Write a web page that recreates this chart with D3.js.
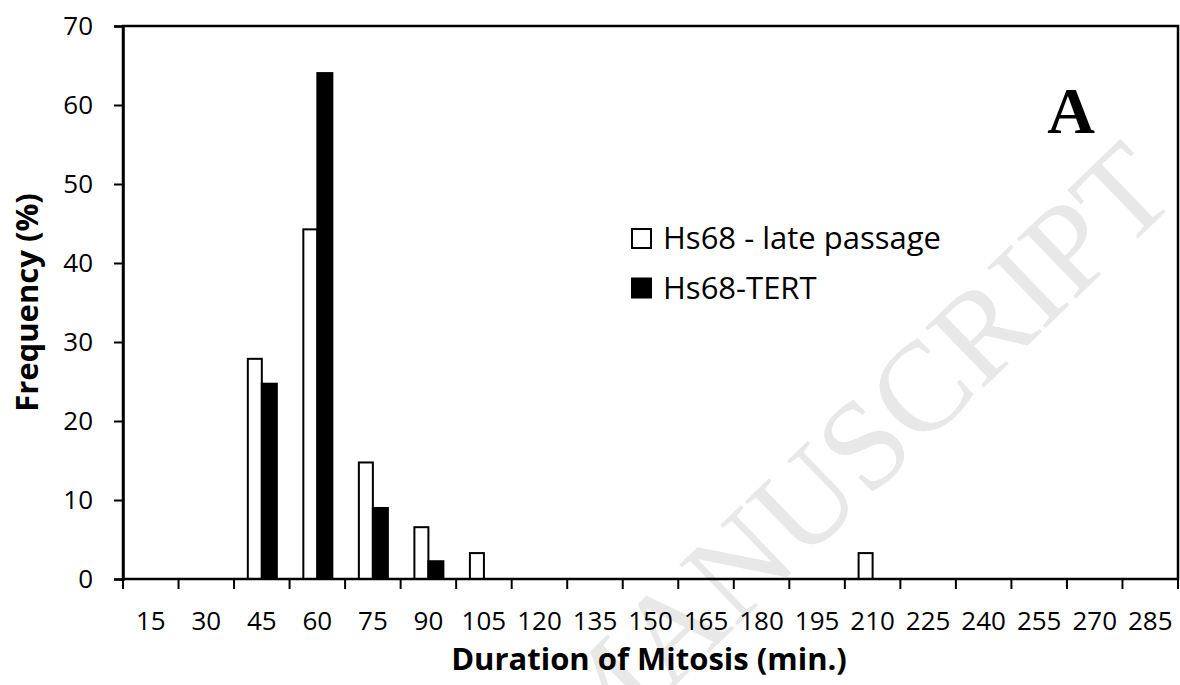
<!DOCTYPE html>
<html>
<head>
<meta charset="utf-8">
<script src="https://cdn.jsdelivr.net/npm/d3@7"></script>
<style>
  body { margin: 0; background: #fff; }
  svg { display: block; }
</style>
</head>
<body>
<div id="chart"></div>
<script>
// duration bins (min.)
const durations = ["15","30","45","60","75","90","105","120","135","150","165","180","195","210","225","240","255","270","285"];
const seriesNames = ["Hs68 - late passage", "Hs68-TERT"];
// frequency (%) per bin
const latePassage = [0,0,27.87,44.26,14.75,6.56,3.28,0,0,0,0,0,0,3.28,0,0,0,0,0];
const tert = [0,0,24.72,64.04,8.99,2.25,0,0,0,0,0,0,0,0,0,0,0,0,0];
const yTicks = [0,10,20,30,40,50,60,70];

const width = 1180, height = 685;
const margin = { top: 26, right: 2, bottom: 106, left: 123 };
const fontFam = "'Open Sans', sans-serif";

const svg = d3.select("#chart").append("svg")
  .attr("width", width)
  .attr("height", height);

// faint watermark behind everything
svg.append("text")
  .attr("transform", "translate(1180,198) rotate(-44)")
  .attr("text-anchor", "end")
  .attr("font-family", "'Liberation Serif', serif")
  .attr("font-size", 128)
  .attr("fill", "#e8e8e8")
  .text("ACCEPTED MANUSCRIPT");

const x = d3.scaleBand()
  .domain(durations)
  .range([margin.left, width - margin.right])
  .paddingInner(0)
  .paddingOuter(0);

const xInner = d3.scaleBand()
  .domain(seriesNames)
  .range([0, x.bandwidth()])
  .paddingOuter(0.85);

const y = d3.scaleLinear()
  .domain([0, 70])
  .range([height - margin.bottom, margin.top]);

const rows = durations.map((d, i) => ({ dur: d, vals: [latePassage[i], tert[i]] }));

const groups = svg.append("g").selectAll("g")
  .data(rows)
  .enter().append("g")
  .attr("transform", d => "translate(" + x(d.dur) + ",0)");

groups.selectAll("rect")
  .data(d => d.vals.map((v, k) => ({ name: seriesNames[k], v: v, k: k })).filter(e => e.v > 0))
  .enter().append("rect")
  .attr("x", d => xInner(d.name) + (d.k === 0 ? 1 : 0))
  .attr("width", d => xInner.bandwidth() - (d.k === 0 ? 1 : 0))
  .attr("y", d => y(d.v))
  .attr("height", d => y(0) - y(d.v))
  .attr("fill", d => d.k === 0 ? "#fff" : "#000")
  .attr("stroke", "#000")
  .attr("stroke-width", 2);

// plot border
svg.append("rect")
  .attr("x", margin.left)
  .attr("y", margin.top)
  .attr("width", width - margin.right - margin.left)
  .attr("height", height - margin.bottom - margin.top)
  .attr("fill", "none")
  .attr("stroke", "#000")
  .attr("stroke-width", 2.5);

// y axis
const yAxis = svg.append("g")
  .attr("transform", "translate(" + margin.left + ",0)")
  .call(d3.axisLeft(y).tickValues(yTicks).tickSize(9).tickPadding(21));
yAxis.select(".domain").attr("stroke-width", 2.5);
yAxis.selectAll(".tick line").attr("stroke-width", 2);
yAxis.selectAll("text").attr("font-family", fontFam).attr("font-size", 26).attr("fill", "#000");

// x axis: labels centred in bins, ticks on bin edges
const xAxis = svg.append("g")
  .attr("transform", "translate(0," + y(0) + ")")
  .call(d3.axisBottom(x).tickSize(0).tickPadding(0));
xAxis.select(".domain").remove();
xAxis.selectAll("text")
  .attr("font-family", fontFam)
  .attr("font-size", 26)
  .attr("fill", "#000")
  .attr("dy", null)
  .attr("y", 51);

const edges = durations.map(d => x(d)).concat([x.range()[1]]);
xAxis.selectAll(".edge")
  .data(edges)
  .enter().append("line")
  .attr("class", "edge")
  .attr("x1", d => d).attr("x2", d => d)
  .attr("y1", 0).attr("y2", 10)
  .attr("stroke", "#000")
  .attr("stroke-width", 2);

// axis titles
svg.append("text")
  .attr("x", 649)
  .attr("y", 670)
  .attr("text-anchor", "middle")
  .attr("font-family", fontFam)
  .attr("font-weight", "bold")
  .attr("font-size", 31)
  .text("Duration of Mitosis (min.)");

svg.append("text")
  .attr("transform", "translate(38," + (margin.top + (y(0) - margin.top) / 2) + ") rotate(-90)")
  .attr("text-anchor", "middle")
  .attr("font-family", fontFam)
  .attr("font-weight", "bold")
  .attr("font-size", 31)
  .text("Frequency (%)");

// legend
const legend = svg.append("g").attr("transform", "translate(631,228)");
const item = legend.selectAll("g")
  .data(seriesNames)
  .enter().append("g")
  .attr("transform", (d, i) => "translate(0," + i * 49.5 + ")");
item.append("rect")
  .attr("x", 1).attr("y", 1)
  .attr("width", 19).attr("height", 19)
  .attr("fill", (d, i) => i === 0 ? "#fff" : "#000")
  .attr("stroke", "#000")
  .attr("stroke-width", 2);
item.append("text")
  .attr("x", 32)
  .attr("y", 21)
  .attr("font-family", fontFam)
  .attr("font-size", 31)
  .text(d => d);

// panel letter
svg.append("text")
  .attr("x", 1071)
  .attr("y", 133)
  .attr("text-anchor", "middle")
  .attr("font-family", "'Liberation Serif', serif")
  .attr("font-weight", "bold")
  .attr("font-size", 66)
  .text("A");
</script>
</body>
</html>
